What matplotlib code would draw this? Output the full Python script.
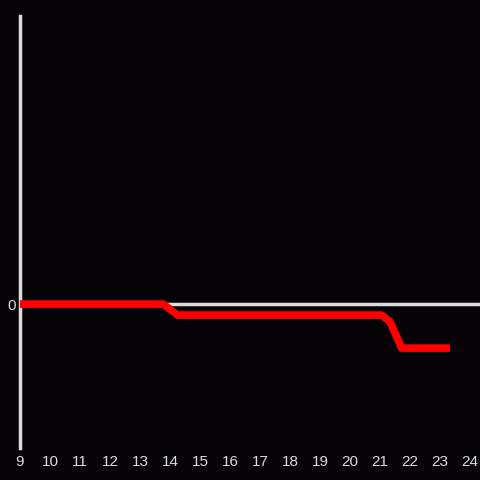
import matplotlib
matplotlib.use("Agg")
import matplotlib.pyplot as plt

# series
hours = [9, 13.77, 14.25, 21.05, 21.33, 21.72, 23.33]
values = [0, 0, -0.25, -0.25, -0.4, -1.0, -1.0]
xticks = list(range(9, 25))

bg = "#050306"
fg = "#dcdcdc"

plt.rcParams["font.family"] = ["Liberation Sans", "DejaVu Sans"]

fig = plt.figure(figsize=(4.8, 4.8), dpi=100, facecolor=bg)
ax = fig.add_axes([20 / 480, 32 / 480, 460 / 480, 432 / 480], facecolor=bg)

ax.axhline(0, color=fg, lw=2.5, zorder=1)
ax.plot(hours, values, color="#ff0000", lw=5.5, solid_joinstyle="round",
        solid_capstyle="butt", zorder=3)

ax.set_xlim(9, 24.33)
ax.set_ylim(-3.27, 6.545)
ax.set_xticks(xticks)
ax.set_xticklabels([str(t) for t in xticks])
ax.set_yticks([0])
ax.set_yticklabels(["0"])
ax.tick_params(length=0, colors=fg, labelsize=11)
ax.tick_params(axis="x", pad=5)
ax.tick_params(axis="y", pad=3)

for side in ["top", "right", "bottom"]:
    ax.spines[side].set_visible(False)
ax.spines["left"].set_color(fg)
ax.spines["left"].set_linewidth(2.5)

fig.savefig("out.png", dpi=100, facecolor=bg)
